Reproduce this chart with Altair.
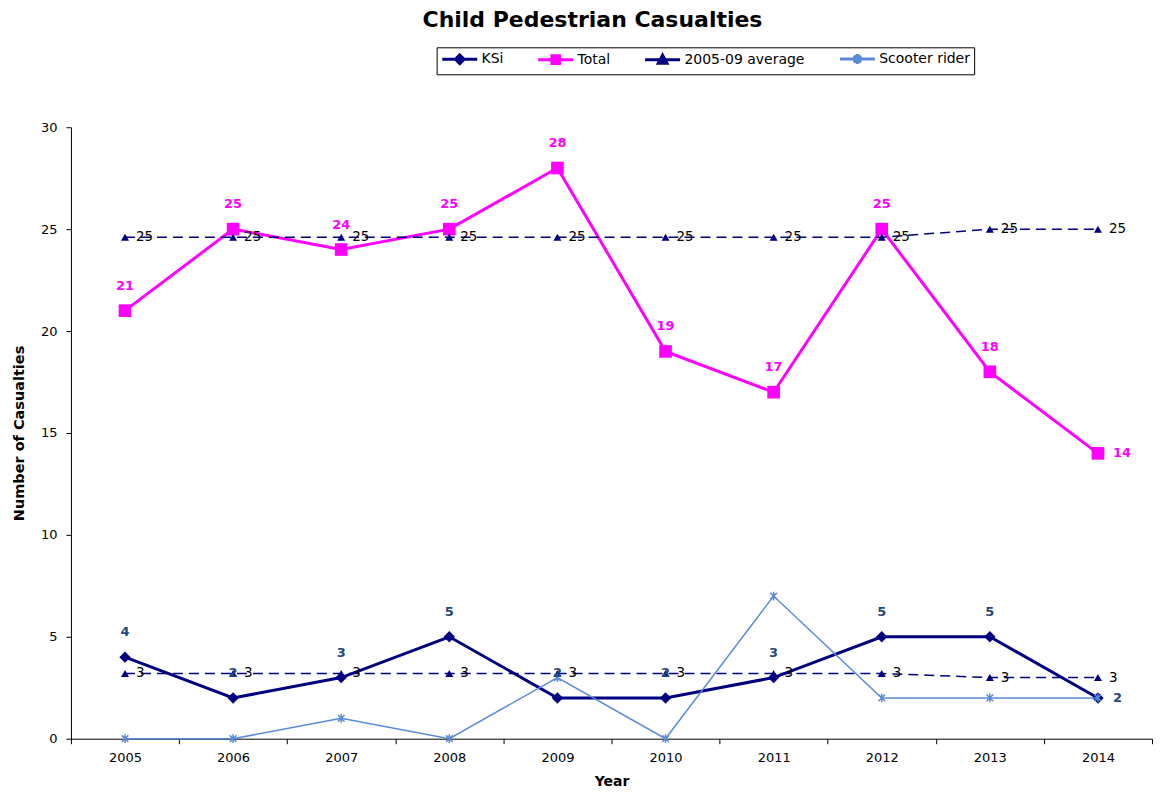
import altair as alt
import pandas as pd

# ---- data ----
years = ["2005", "2006", "2007", "2008", "2009", "2010", "2011", "2012", "2013", "2014"]
ksi = [4, 2, 3, 5, 2, 2, 3, 5, 5, 2]
total = [21, 25, 24, 25, 28, 19, 17, 25, 18, 14]
avg_total = [24.6, 24.6, 24.6, 24.6, 24.6, 24.6, 24.6, 24.6, 25.0, 25.0]
avg_ksi = [3.2, 3.2, 3.2, 3.2, 3.2, 3.2, 3.2, 3.2, 3.0, 3.0]
scooter = [0, 0, 1, 0, 3, 0, 7, 2, 2, 2]
y_ticks = [0, 5, 10, 15, 20, 25, 30]

series_names = ["KSi", "Total", "2005-09 average", "Scooter rider"]

# ---- styles ----
NAVY = "#000080"
MAGENTA = "#FF00FF"
SCOOT = "#5A8AD8"
KSI_LABEL = "#1F497D"
FONT = "DejaVu Sans"
series_colors = [NAVY, MAGENTA, NAVY, SCOOT]
series_widths = [3, 3, 1.5, 1.5]
# legend symbols: a line segment with the series marker in its middle
legend_paths = [
    "M-1,0L5,0M2,-0.75L2.75,0L2,0.75L1.25,0Z",
    "M-1,0L5,0M1.35,-0.65L2.65,-0.65L2.65,0.65L1.35,0.65Z",
    "M-1,0L5,0M2,-0.8L2.75,0.6L1.25,0.6Z",
    "M-1,0L5,0M1.4,-0.6L2.6,0.6M1.4,0.6L2.6,-0.6M2,-0.85L2,0.85",
]
ASTERISK = "M-1,-1L1,1M-1,1L1,-1M0,-1.3L0,1.3"

df = pd.DataFrame({
    "year": years, "ksi": ksi, "total": total,
    "avg_total": avg_total, "avg_ksi": avg_ksi, "scooter": scooter,
})
legend_df = pd.DataFrame({"series": series_names})

X = alt.X(
    "year:O", title="Year", bandPosition=0.5,
    scale=alt.Scale(type="band", paddingInner=0, paddingOuter=0),
    axis=alt.Axis(labelAngle=0, tickBand="extent", grid=False, tickSize=5,
                  labelPadding=8, titlePadding=10, domainColor="black",
                  tickColor="black", labelFont=FONT, labelFontSize=13,
                  labelColor="black", titleFont=FONT, titleFontSize=14,
                  titleFontWeight="bold", titleColor="black"),
)


def Y(field):
    return alt.Y(
        f"{field}:Q", title="Number of Casualties",
        scale=alt.Scale(domain=[0, 30], nice=False),
        axis=alt.Axis(values=y_ticks, grid=False, tickSize=5, labelPadding=9,
                      titlePadding=14, domainColor="black", tickColor="black",
                      labelFont=FONT, labelFontSize=13, labelColor="black",
                      titleFont=FONT, titleFontSize=14.5, titleFontWeight="bold",
                      titleColor="black"),
    )


base = alt.Chart(df)


def line(field, color, width, dash=None):
    kw = dict(color=color, strokeWidth=width)
    if dash:
        kw["strokeDash"] = dash
    return base.mark_line(**kw).encode(x=X, y=Y(field))


def points(field, shape, size, color, filled=True, sw=1):
    return base.mark_point(shape=shape, size=size, color=color, filled=filled,
                           opacity=1, strokeWidth=sw).encode(x=X, y=Y(field))


def labels_above(field, color, weight="bold"):
    return base.mark_text(align="center", baseline="middle", dy=-25,
                          font=FONT, fontSize=13, fontWeight=weight,
                          color=color).encode(
        x=X, y=Y(field), text=alt.Text(f"{field}:Q", format=".0f")
    ).transform_filter(alt.datum.year != "2014")


def labels_right(field, color, dx, weight="bold", size=13, last_only=True):
    ch = base.mark_text(align="left", baseline="middle", dx=dx,
                        font=FONT, fontSize=size, fontWeight=weight,
                        color=color).encode(
        x=X, y=Y(field), text=alt.Text(f"{field}:Q", format=".0f"))
    if last_only:
        ch = ch.transform_filter(alt.datum.year == "2014")
    return ch


leg = alt.Legend(orient="none", legendX=366, legendY=-80, direction="horizontal",
                 title=None, strokeColor="black", padding=4, symbolSize=136,
                 labelFont=FONT, labelFontSize=14, labelColor="black",
                 columnPadding=28, labelOffset=26, symbolOpacity=1)

legend_layer = alt.Chart(legend_df).mark_point(filled=True, opacity=0).encode(
    color=alt.Color("series:N", scale=alt.Scale(domain=series_names, range=series_colors), legend=leg),
    stroke=alt.Stroke("series:N", scale=alt.Scale(domain=series_names, range=series_colors), legend=leg),
    shape=alt.Shape("series:N", scale=alt.Scale(domain=series_names, range=legend_paths), legend=leg),
    strokeWidth=alt.StrokeWidth("series:N", scale=alt.Scale(domain=series_names, range=series_widths), legend=leg),
)

chart = alt.layer(
    line("ksi", NAVY, 3),
    points("ksi", "diamond", 130, NAVY),
    line("total", MAGENTA, 3),
    points("total", "square", 160, MAGENTA),
    line("avg_total", NAVY, 1.5, [10, 6]),
    line("avg_ksi", NAVY, 1.5, [10, 6]),
    points("avg_total", "triangle-up", 65, NAVY),
    points("avg_ksi", "triangle-up", 65, NAVY),
    line("scooter", SCOOT, 1.5),
    points("scooter", ASTERISK, 45, SCOOT, filled=False, sw=1.5),
    labels_right("avg_total", "black", 11, weight="normal", size=13.5, last_only=False),
    labels_right("avg_ksi", "black", 11, weight="normal", size=13.5, last_only=False),
    labels_above("ksi", KSI_LABEL),
    labels_right("ksi", KSI_LABEL, 15),
    labels_above("total", MAGENTA),
    labels_right("total", MAGENTA, 15),
    legend_layer,
).properties(
    width=1082, height=612, background="white",
    padding={"left": 3, "top": 0, "right": 0, "bottom": 0},
    title=alt.TitleParams("Child Pedestrian Casualties", font=FONT, fontSize=22,
                          fontWeight="bold", color="black", anchor="middle",
                          dx=-19, offset=15),
).configure_view(stroke=None)

chart.save("out.html", embed_options={"renderer": "svg", "actions": False})
